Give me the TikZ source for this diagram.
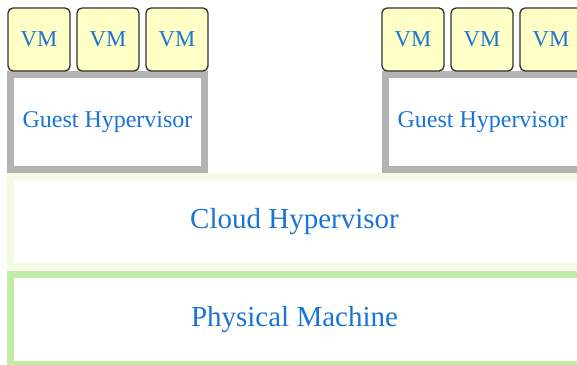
\documentclass[tikz,border=0pt]{standalone}
\usepackage{fontspec}
\setmainfont{Liberation Serif}
\definecolor{txtblue}{HTML}{1A74D6}
\definecolor{vmfill}{HTML}{FFFFC6}
\definecolor{vmline}{HTML}{303030}
\definecolor{guestgray}{HTML}{B3B3B3}
\definecolor{cloudgreen}{HTML}{F3FCE2}
\definecolor{physgreen}{HTML}{C1ECA3}
\tikzset{
  x=1pt, y=-1pt,
  vmbox/.style={draw=vmline, fill=vmfill, line width=1.3pt, rounded corners=5pt,
    minimum width=62pt, minimum height=63pt, inner sep=0pt, text=txtblue,
    font=\fontsize{22.7}{26}\selectfont},
  layer/.style={line width=7pt, fill=white, inner sep=0pt},
  guesttext/.style={text=txtblue, font=\fontsize{24}{28}\selectfont},
  widetext/.style={text=txtblue, font=\fontsize{29}{34}\selectfont},
  guestbox/.style={layer, draw=guestgray, minimum width=194pt, minimum height=95pt,
    guesttext},
  widebox/.style={layer, minimum width=581pt, minimum height=90pt},
}
\begin{document}
\begin{tikzpicture}
\useasboundingbox (0,0) rectangle (577,364);
\clip (0,0) rectangle (577,364);
\fill[white] (0,0) rectangle (577,364);
% base layers, running past the right edge
\node[widebox, draw=physgreen,
  label={[widetext, xshift=-6.5pt]center:Physical Machine}] (phys) at (301,319.5) {};
\node[widebox, draw=cloudgreen,
  label={[widetext, xshift=-6.5pt]center:Cloud Hypervisor}] (cloud) at (301,221.5) {};
% guest hypervisors
\node[guestbox] (gl) at (107.5,122) {Guest Hypervisor};
\node[layer, draw=guestgray, minimum width=211pt, minimum height=95pt,
  label={[guesttext, xshift=-8.5pt]center:Guest Hypervisor}] (gr) at (491,122) {};
% virtual machines
\node[vmbox] (vm1) at (39,39.5) {VM};
\node[vmbox] (vm2) at (108,39.5) {VM};
\node[vmbox] (vm3) at (177,39.5) {VM};
\node[vmbox] (vm4) at (413,39.5) {VM};
\node[vmbox] (vm5) at (482,39.5) {VM};
\node[vmbox] (vm6) at (551,39.5) {VM};
\end{tikzpicture}
\end{document}
